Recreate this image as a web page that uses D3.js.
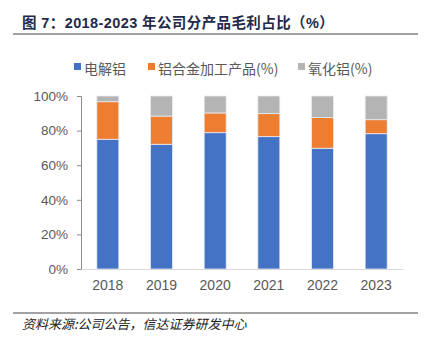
<!DOCTYPE html>
<html>
<head>
<meta charset="utf-8">
<script src="https://cdn.jsdelivr.net/npm/d3@7"></script>
<style>
  body { margin: 0; background: #fff; }
  svg { display: block; font-family: "Liberation Sans", Arial, "Noto Sans CJK SC", sans-serif; }
</style>
</head>
<body>
<svg id="chart" width="430" height="337"></svg>
<script>
'use strict';

const years = ['2018', '2019', '2020', '2021', '2022', '2023'];
const seriesNames = ['电解铝', '铝合金加工产品(%)', '氧化铝(%)'];
const electrolytic = [75.0, 72.1, 78.8, 76.5, 69.8, 78.2];
const alloy = [21.7, 16.3, 11.4, 13.3, 17.7, 8.1];
const alumina = [3.3, 11.6, 9.8, 10.2, 12.5, 13.7];
const yTicks = [0, 20, 40, 60, 80, 100];

const colors = ['#4472c4', '#ed7d31', '#b4b4b4'];

const svg = d3.select('#chart');

// title + rules
svg.append('text')
  .attr('x', 22)
  .attr('y', 28)
  .attr('fill', '#1f2b4a')
  .attr('font-size', 14.5)
  .attr('font-weight', 'bold')
  .attr('letter-spacing', 0.4)
  .attr('font-family', '"Liberation Sans", Arial, "Noto Sans CJK SC", sans-serif')
  .text('图 7：2018-2023 年公司分产品毛利占比（%）');

svg.append('line')
  .attr('x1', 13).attr('x2', 418)
  .attr('y1', 34).attr('y2', 34)
  .attr('stroke', '#444').attr('stroke-width', 1);

svg.append('line')
  .attr('x1', 13).attr('x2', 418)
  .attr('y1', 313).attr('y2', 313)
  .attr('stroke', '#444').attr('stroke-width', 1);

svg.append('text')
  .attr('x', 22)
  .attr('y', 329)
  .attr('fill', '#222')
  .attr('font-size', 13)
  .attr('font-style', 'italic')
  .attr('font-family', '"Noto Sans CJK SC", sans-serif')
  .text('资料来源:公司公告，信达证券研发中心');

// stacked data
const rows = years.map((y, i) => ({
  year: y,
  s0: electrolytic[i],
  s1: alloy[i],
  s2: alumina[i]
}));
const stack = d3.stack().keys(['s0', 's1', 's2'])(rows);

const x = d3.scaleBand()
  .domain(years)
  .range([81, 403])
  .paddingInner(0.59)
  .paddingOuter(0.295);

const y = d3.scaleLinear()
  .domain([0, 100])
  .range([269, 96]);

const g = svg.append('g');

g.selectAll('g.layer')
  .data(stack)
  .join('g')
  .attr('class', 'layer')
  .attr('fill', (d, i) => colors[i])
  .selectAll('rect')
  .data(d => d)
  .join('rect')
  .attr('x', d => x(d.data.year))
  .attr('width', x.bandwidth())
  .attr('y', d => y(d[1]))
  .attr('height', d => y(d[0]) - y(d[1]))
  .attr('stroke', '#e8ecf4')
  .attr('stroke-width', 0.8);

// y axis
const yAxis = svg.append('g')
  .attr('transform', 'translate(81,0)')
  .call(d3.axisLeft(y).tickValues(yTicks).tickSize(4).tickPadding(9).tickFormat(d => d + '%'));
yAxis.select('.domain').attr('stroke', '#8c8c8c');
yAxis.selectAll('.tick line').attr('stroke', '#8c8c8c');
yAxis.selectAll('.tick text')
  .attr('fill', '#595959')
  .attr('font-size', 13.5)
  .attr('font-family', '"Liberation Sans", Arial, sans-serif');

// x axis
const xAxis = svg.append('g')
  .attr('transform', 'translate(0,269)')
  .call(d3.axisBottom(x).tickSize(0).tickPadding(11));
xAxis.select('.domain').attr('stroke', '#d9d9d9').attr('stroke-width', 1.2);
xAxis.selectAll('.tick text')
  .attr('fill', '#595959')
  .attr('font-size', 14)
  .attr('font-family', '"Liberation Sans", Arial, sans-serif');

// legend
const legendItems = [
  { name: seriesNames[0], x: 74 },
  { name: seriesNames[1], x: 148 },
  { name: seriesNames[2], x: 298 }
];
const legend = svg.append('g');
legendItems.forEach((item, i) => {
  legend.append('rect')
    .attr('x', item.x)
    .attr('y', 63)
    .attr('width', 7)
    .attr('height', 7)
    .attr('fill', colors[i]);
  legend.append('text')
    .attr('x', item.x + 10)
    .attr('y', 74)
    .attr('fill', '#595959')
    .attr('font-size', 14)
    .attr('font-family', '"Noto Sans CJK SC", "Liberation Sans", sans-serif')
    .text(item.name);
});
</script>
</body>
</html>
